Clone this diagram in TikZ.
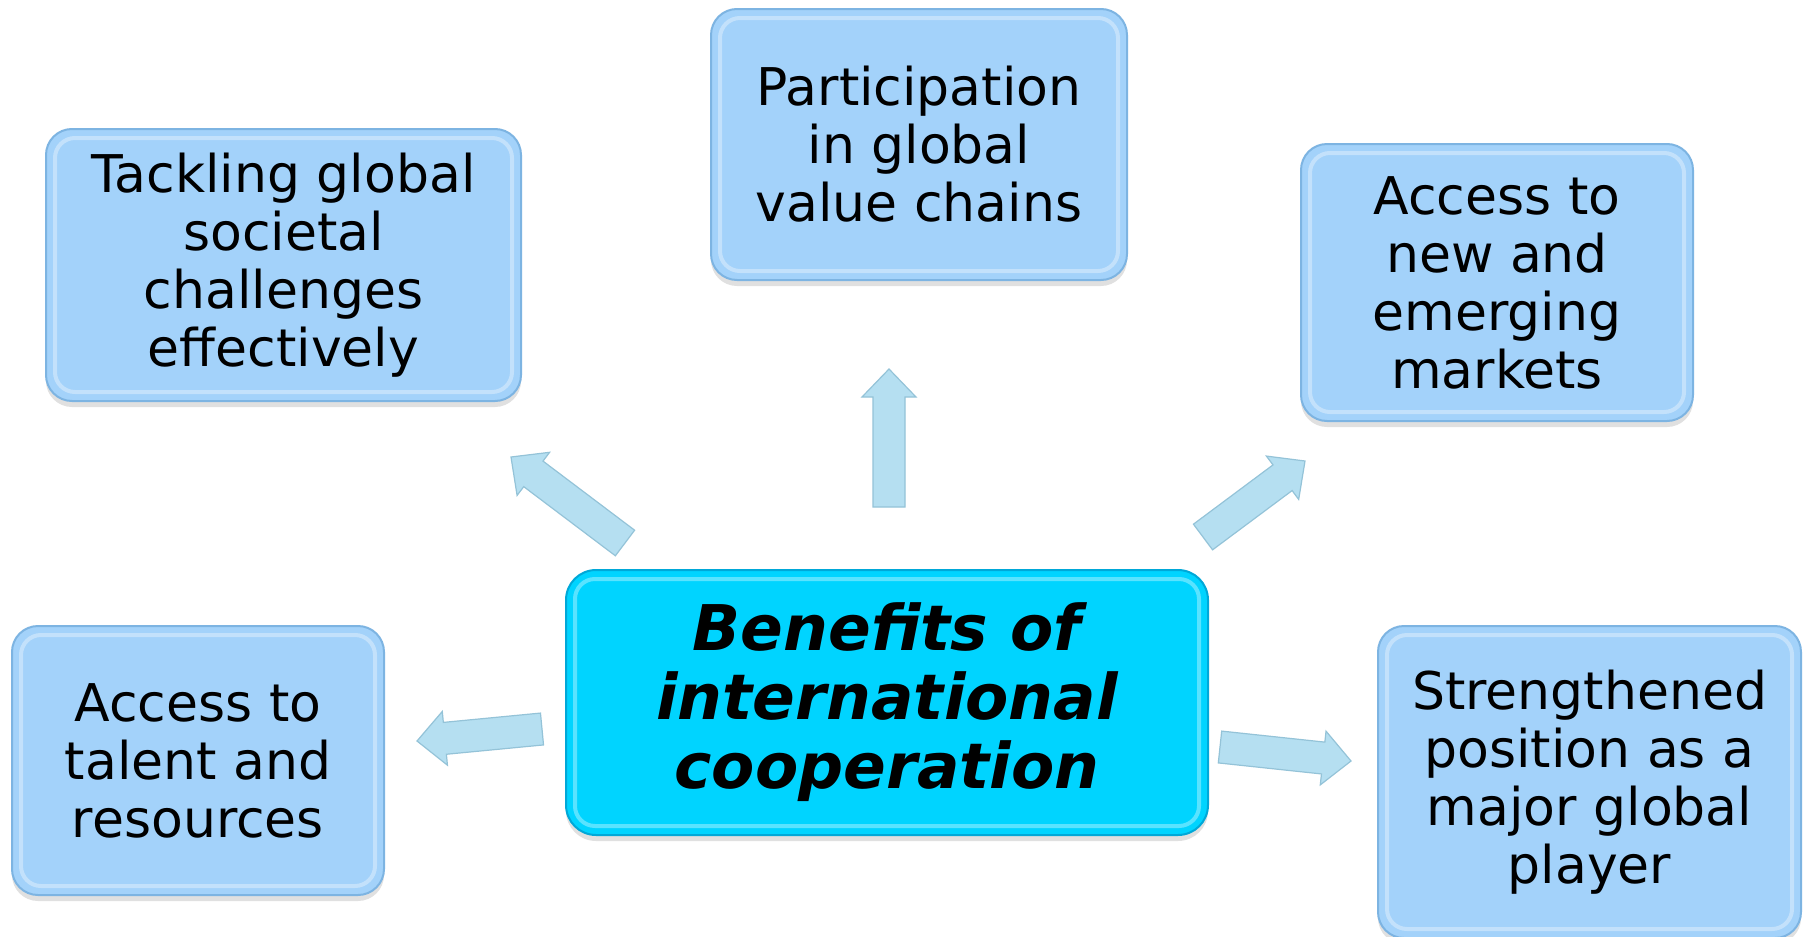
\documentclass[tikz,border=0pt]{standalone}
\usepackage{fontspec}
\setmainfont{DejaVu Sans}
\usetikzlibrary{calc,shadows}
\definecolor{boxfill}{HTML}{A3D2FA}
\definecolor{boxline}{HTML}{7DB4E2}
\definecolor{cenfill}{HTML}{00D4FF}
\definecolor{cenline}{HTML}{00A8D8}
\definecolor{arrfill}{HTML}{B5DFF1}
\definecolor{arrline}{HTML}{94C3D8}
\tikzset{
  sbox/.style={draw=boxline, line width=2pt, fill=boxfill, rounded corners=26pt,
    align=center, inner sep=0pt, font={\fontsize{52}{58}\selectfont},
    drop shadow={shadow xshift=0pt, shadow yshift=-6pt, opacity=0.2, fill=black!60}},
  cbox/.style={draw=cenline, line width=2pt, fill=cenfill, rounded corners=30pt,
    align=center, inner sep=0pt, font={\fontsize{63}{69}\selectfont\bfseries\itshape},
    drop shadow={shadow xshift=0pt, shadow yshift=-6pt, opacity=0.2, fill=black!60}},
  bevelline/.style={draw=white, draw opacity=0.35, line width=4pt, rounded corners=20pt},
  blockarrow/.style={fill=arrfill, draw=arrline, line width=1.2pt, line join=miter}
}
\newcommand\bevel[1]{\draw[bevelline] ([shift={(10,10)}]#1.north west) rectangle ([shift={(-10,-10)}]#1.south east);}
\newcommand\barrow[2]{%
  \coordinate (#2base) at ($(#2)!28pt!(#1)$);
  \draw[blockarrow] ($(#1)!16pt!90:(#2)$) -- ($(#2base)!16pt!90:(#2)$) -- ($(#2base)!27pt!90:(#2)$) -- (#2)
    -- ($(#2base)!27pt!-90:(#2)$) -- ($(#2base)!16pt!-90:(#2)$) -- ($(#1)!16pt!-90:(#2)$) -- cycle;}
\begin{document}
\begin{tikzpicture}[x=1pt,y=-1pt]
\useasboundingbox (0,0) rectangle (1808,937);
\fill[white] (0,0) rectangle (1808,937);

\node[sbox, minimum width=475pt, minimum height=272pt] (tack) at (283.5,265) {Tackling global\\societal\\challenges\\effectively};
\node[sbox, minimum width=416pt, minimum height=271pt] (part) at (919,144.5) {Participation\\in global\\value chains};
\node[sbox, minimum width=392pt, minimum height=277pt] (mark) at (1497,282.5) {Access to\\new and\\emerging\\markets};
\node[sbox, minimum width=372pt, minimum height=269pt] (tal) at (198,760.5) {Access to\\talent and\\resources};
\node[sbox, minimum width=423pt, minimum height=312pt] (str) at (1589.5,782) {Strengthened\\position as a\\major global\\player};
\node[cbox, minimum width=642pt, minimum height=265pt] (cen) at (887,702.5) {Benefits of\\international\\cooperation};
\bevel{tack}\bevel{part}\bevel{mark}\bevel{tal}\bevel{str}\bevel{cen}

\coordinate (upT) at (889,507);  \coordinate (upH) at (889,369);
\coordinate (ulT) at (625,543);  \coordinate (ulH) at (511,457);
\coordinate (urT) at (1203,537); \coordinate (urH) at (1305,461);
\coordinate (lT) at (542,729);   \coordinate (lH) at (417,741);
\coordinate (rT) at (1220,747);  \coordinate (rH) at (1351,761);
\barrow{upT}{upH}
\barrow{ulT}{ulH}
\barrow{urT}{urH}
\barrow{lT}{lH}
\barrow{rT}{rH}
\end{tikzpicture}
\end{document}
